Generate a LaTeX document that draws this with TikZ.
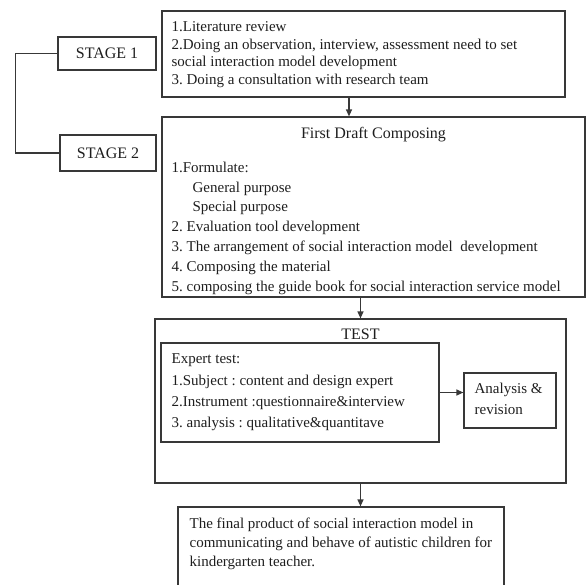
\documentclass[tikz,border=0pt]{standalone}
\usepackage{fontspec}
\setmainfont{Liberation Serif}
\usetikzlibrary{arrows.meta,positioning,calc}
\definecolor{ink}{HTML}{1E1E1E}
\definecolor{edge}{HTML}{383838}
\frenchspacing

\begin{document}
\begin{tikzpicture}[x=1pt,y=-1pt,>={Triangle[length=7pt,width=6pt]},
            frame/.style={draw=edge,line width=1.2pt,inner sep=0pt},
            head/.style={text=ink,font=\fontsize{16}{19}\selectfont},
            body/.style={anchor=north west,inner sep=0pt,align=left,text=ink,
                         font=\fontsize{15}{#1}\selectfont},
            link/.style={draw=edge,line width=1.2pt}]
          \useasboundingbox (0,0) rectangle (586,584);
          \clip (0,0) rectangle (586,584);
          % stages
          \node[frame,head,minimum width=98pt,minimum height=33pt] (stage1) at (107,53.5) {STAGE 1};
          \node[frame,head,minimum width=96pt,minimum height=36pt] (stage2) at (108,153) {STAGE 2};
          \draw[link] (stage1.west) -- ++(-42,0) |- (stage2.west);
          % stage 1
          \node[frame,minimum width=403pt,minimum height=86pt] (lit) at (363.5,54) {};
          \node[body=17.7pt] (littext) at ($(lit.north west)+(10,11)$)
            {1.Literature review\\
             2.Doing an observation, interview, assessment need to set\\
             social interaction model development\\
             3. Doing a consultation with research team};
          % stage 2
          \node[frame,minimum width=423pt,minimum height=180pt] (draft) at (373.5,207) {};
          \node[head,anchor=base] (drafttitle) at ($(draft.north)+(0,22.5)$) {First Draft Composing};
          \node[body=19.8pt] (drafttext) at ($(draft.north west)+(10,45.3)$)
            {1.Formulate:\\
             \hspace*{21pt}General purpose\\
             \hspace*{21pt}Special purpose\\
             2. Evaluation tool development\\
             3. The arrangement of social interaction model\ \ development\\
             4. Composing the material\\
             5. composing the guide book for social interaction service model};
          % test
          \node[frame,minimum width=411pt,minimum height=164pt] (test) at (360.5,401) {};
          \node[head,anchor=base] (testtitle) at ($(test.north)+(0,21)$) {TEST};
          \node[frame,minimum width=278pt,minimum height=99pt] (expert) at (300,392.5) {};
          \node[body=21.3pt] (experttext) at ($(expert.north west)+(11,11.3)$)
            {Expert test:\\
             1.Subject : content and design expert\\
             2.Instrument :questionnaire\&interview\\
             3. analysis : qualitative\&quantitave};
          \node[frame,minimum width=92pt,minimum height=55pt] (analysis) at (510,400.5) {};
          \node[body=21pt] (analysistext) at ($(analysis.north west)+(11,10.3)$) {Analysis \&\\revision};
          % final product
          \node[frame,minimum width=326pt,minimum height=95pt] (final) at (341,554.5) {};
          \node[body=19pt] (finaltext) at ($(final.north west)+(12,11.3)$)
            {The final product of social interaction model in\\
             communicating and behave of autistic children for\\
             kindergarten teacher.};
          % arrows
          \path (lit.south) ++(-14.5,0) coordinate (litout);
          \draw[link,->] (litout) -- (litout |- draft.north);
          \draw[link,->] (test.north |- draft.south) -- (test.north);
          \draw[link,->] (expert.east) -- (expert.east -| analysis.west);
          \draw[link,->] (test.south) -- (test.south |- final.north);
        \end{tikzpicture}
\end{document}
